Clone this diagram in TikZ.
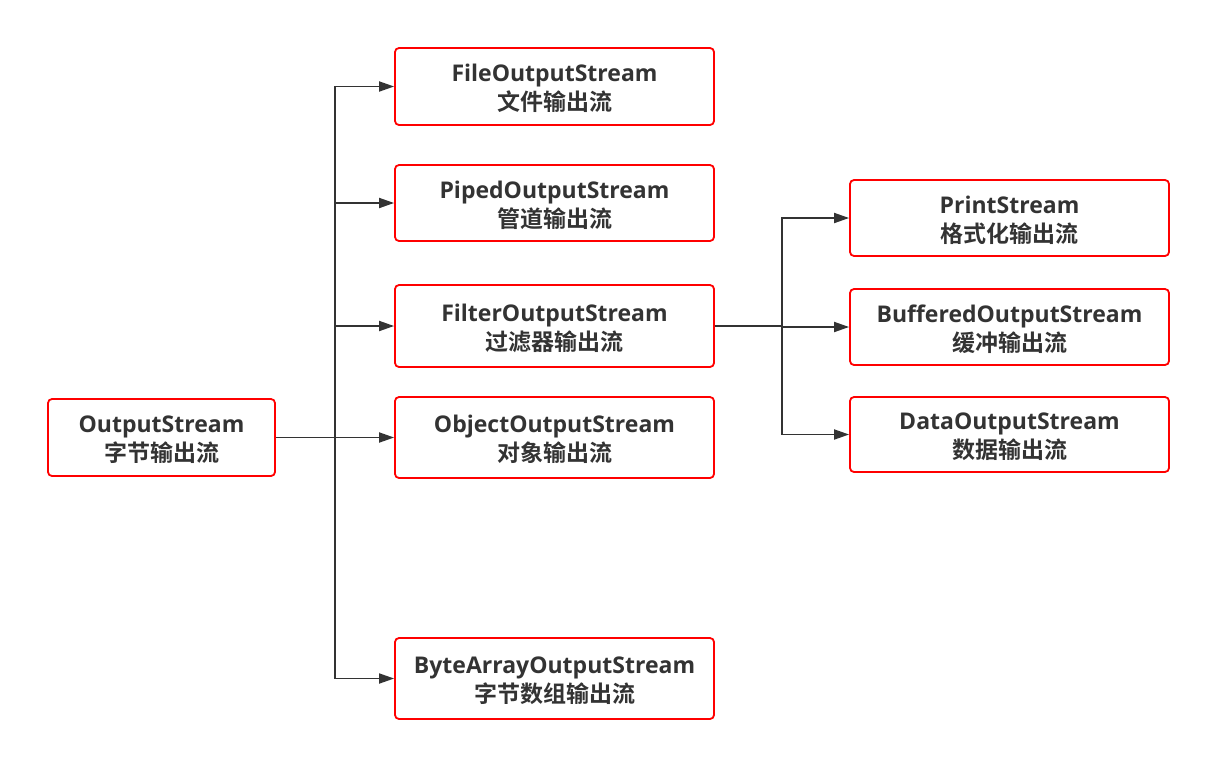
\documentclass[tikz,border=0pt]{standalone}
\usepackage{fontspec}
\setmainfont{Open Sans}
\newfontfamily\cjk{Noto Sans CJK SC}[BoldFont={* Bold}]
\usetikzlibrary{arrows.meta}
\definecolor{lineg}{HTML}{333333}
\definecolor{boxred}{HTML}{FF0000}
\definecolor{txt}{HTML}{333333}
\tikzset{
  box/.style={draw=boxred, line width=1.8pt, rounded corners=4pt, fill=white,
    minimum width=319pt, minimum height=77pt, align=center, text=txt,
    font=\fontsize{23}{29}\selectfont\bfseries, inner sep=0pt},
  lb/.style={text=txt, align=center, font=\fontsize{23}{29}\selectfont\bfseries, inner sep=0pt},
  arr/.style={draw=lineg, line width=1.8pt, -{Triangle[length=15pt,width=10pt]}},
  ln/.style={draw=lineg, line width=1.8pt}
}
\newcommand{\lbl}[2]{#1\\{\cjk\bfseries #2}}
\begin{document}
\begin{tikzpicture}[x=1pt,y=-1pt]
\useasboundingbox (0,0) rectangle (1231,782);
\node[box, minimum width=227pt, minimum height=77pt] (out) at (161.5,437.5) {};
\node[box] (file) at (554.5,86.5) {};
\node[box, minimum height=76pt] (piped) at (554.5,203) {};
\node[box, minimum height=82pt] (filter) at (554.5,326) {};
\node[box, minimum height=81pt] (object) at (554.5,437.5) {};
\node[box, minimum height=81pt] (bytearr) at (554.5,678.5) {};
\node[box, minimum height=76pt] (print) at (1009.5,218) {};
\node[box, minimum height=76pt] (buffered) at (1009.5,327) {};
\node[box, minimum height=75pt] (data) at (1009.5,434.5) {};
\node[lb] (outt) at ([yshift=-2pt]out.center) {\lbl{OutputStream}{字节输出流}};
\node[lb] (filet) at ([yshift=-2pt]file.center) {\lbl{FileOutputStream}{文件输出流}};
\node[lb] (pipedt) at ([yshift=-2pt]piped.center) {\lbl{PipedOutputStream}{管道输出流}};
\node[lb] (filtert) at ([yshift=-2pt]filter.center) {\lbl{FilterOutputStream}{过滤器输出流}};
\node[lb] (objectt) at ([yshift=-2pt]object.center) {\lbl{ObjectOutputStream}{对象输出流}};
\node[lb] (bytearrt) at ([yshift=-2pt]bytearr.center) {\lbl{ByteArrayOutputStream}{字节数组输出流}};
\node[lb] (printt) at ([yshift=-2pt]print.center) {\lbl{PrintStream}{格式化输出流}};
\node[lb] (bufferedt) at ([yshift=-2pt]buffered.center) {\lbl{BufferedOutputStream}{缓冲输出流}};
\node[lb] (datat) at ([yshift=-2pt]data.center) {\lbl{DataOutputStream}{数据输出流}};
\coordinate (j1) at (335,437.5);
\coordinate (j2) at (782,326);
\draw[ln] (out.east) -- (j1);
\draw[arr] (j1) |- (file.west);
\draw[arr] (j1) |- (piped.west);
\draw[arr] (j1) |- (filter.west);
\draw[arr] (j1) -- (object.west);
\draw[arr] (j1) |- (bytearr.west);
\draw[ln] (filter.east) -- (j2);
\draw[arr] (j2) |- (print.west);
\draw[arr] (j2) |- (buffered.west);
\draw[arr] (j2) |- (data.west);
\end{tikzpicture}
\end{document}
